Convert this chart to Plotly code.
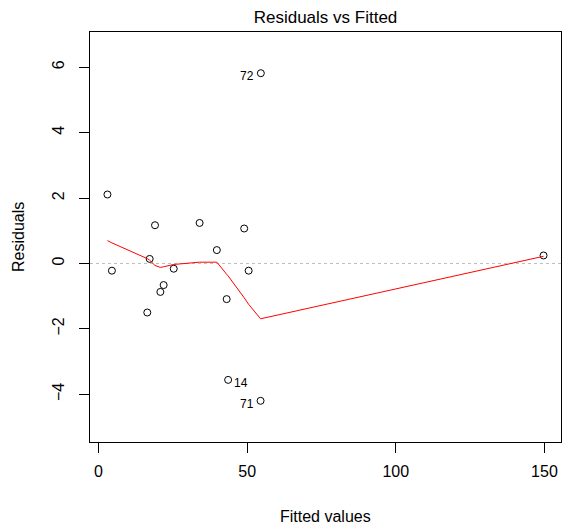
import plotly.graph_objects as go

# Data (sorted by fitted value)
fitted = [3.0, 4.5, 16.4, 17.2, 19.0, 20.8, 21.9, 25.3, 34.0, 39.8,
          43.1, 43.6, 49.0, 50.5, 54.5, 54.6, 149.7]
residuals = [2.11, -0.22, -1.50, 0.14, 1.17, -0.87, -0.66, -0.16, 1.24, 0.41,
             -1.09, -3.56, 1.07, -0.22, -4.20, 5.82, 0.245]
smooth = [0.70, 0.63, 0.15, 0.10, -0.06, -0.12, -0.10, -0.03, 0.04, 0.04,
          -0.33, -0.38, -1.05, -1.25, -1.69, -1.69, 0.22]
point_ids = ["", "", "", "", "", "", "", "", "", "",
             "", "14", "", "", "71", "72", ""]

x_ticks = [0, 50, 100, 150]
y_ticks = [-4, -2, 0, 2, 4, 6]

FONT = "Liberation Sans, Arial, sans-serif"

fig = go.Figure()
fig.add_trace(go.Scatter(
    x=fitted, y=residuals, mode="markers",
    marker=dict(symbol="circle-open", size=7, color="black", line=dict(width=1, color="black")),
    showlegend=False, hoverinfo="x+y"))
fig.add_trace(go.Scatter(
    x=fitted, y=smooth, mode="lines",
    line=dict(color="red", width=1), showlegend=False, hoverinfo="skip"))

fig.add_shape(type="line", xref="paper", yref="y", x0=0, x1=1, y0=0, y1=0,
              line=dict(color="#BEBEBE", width=1, dash="dot"), layer="below")

# Point id labels (left of point for right half, right of point otherwise)
for fx, ry, lab in zip(fitted, residuals, point_ids):
    if not lab:
        continue
    right = lab == "14"
    fig.add_annotation(x=fx, y=ry, text=lab, showarrow=False,
                       xanchor="left" if right else "right",
                       xshift=4 if right else -5, yshift=-3,
                       font=dict(family=FONT, size=12, color="black"))

axis_common = dict(showline=True, mirror=True, linecolor="black", linewidth=1,
                   ticks="outside", ticklen=10, tickwidth=1, tickcolor="black",
                   showgrid=False, zeroline=False,
                   tickfont=dict(family=FONT, size=16, color="black"))

fig.update_xaxes(range=[-2.87, 155.57], tickvals=x_ticks, ticklabelstandoff=5, **axis_common)
fig.update_yaxes(range=[-5.46, 7.08], tickvals=y_ticks, tickangle=-90, ticklabelstandoff=9, **axis_common)

fig.add_annotation(text="Fitted values", xref="paper", yref="paper", x=0.5, y=0,
                   yshift=-74, showarrow=False, yanchor="middle",
                   font=dict(family=FONT, size=16, color="black"))
fig.add_annotation(text="Residuals", xref="paper", yref="paper", x=0, y=0.5,
                   xshift=-72, showarrow=False, xanchor="center", textangle=-90,
                   font=dict(family=FONT, size=16, color="black"))

fig.update_layout(
    width=562, height=529,
    margin=dict(l=90, r=1, t=32, b=87),
    plot_bgcolor="white", paper_bgcolor="white",
    title=dict(text="Residuals vs Fitted", x=0.5, xref="paper", xanchor="center",
               y=1 - 17 / 529, yanchor="middle",
               font=dict(family=FONT, size=17, color="black")),
    hovermode=False,
)

fig.write_html("out.html")
